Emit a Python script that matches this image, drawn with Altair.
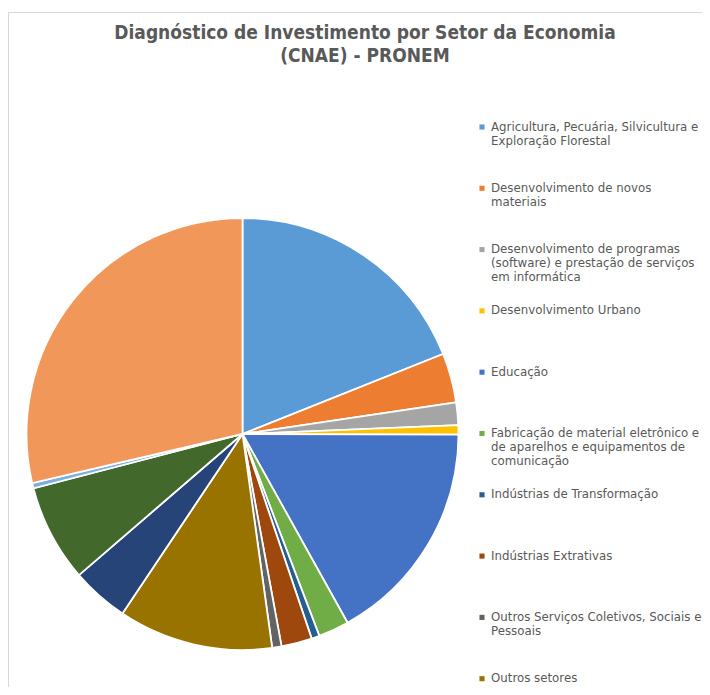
import altair as alt
import pandas as pd

title_lines = ["Diagnóstico de Investimento por Setor da Economia", "(CNAE) - PRONEM"]

categories = [
    "Agricultura, Pecuária, Silvicultura e\nExploração Florestal",
    "Desenvolvimento de novos\nmateriais",
    "Desenvolvimento de programas\n(software) e prestação de serviços\nem informática",
    "Desenvolvimento Urbano",
    "Educação",
    "Fabricação de material eletrônico e\nde aparelhos e equipamentos de\ncomunicação",
    "Indústrias de Transformação",
    "Indústrias Extrativas",
    "Outros Serviços Coletivos, Sociais e\nPessoais",
    "Outros setores",
    "Produtos Químicos e Farmacêuticos",
    "Saúde e Serviços Sociais",
    "Serviços Industriais de Utilidade\nPública",
    "Tecnologia da Informação e\nComunicação",
]
values = [19.0, 3.7, 1.7, 0.7, 16.9, 2.3, 0.6, 2.3, 0.7, 11.6, 4.3, 7.3, 0.4, 28.7]
colors = ["#5B9BD5", "#ED7D31", "#A5A5A5", "#FFC000", "#4472C4", "#70AD47",
          "#255E91", "#9E480E", "#636363", "#997300", "#264478", "#43682B",
          "#7CAFDD", "#F1975A"]

df = pd.DataFrame({"cat": categories, "value": values, "idx": list(range(len(categories)))})
# only the entries that fit in the visible frame are listed in the legend
legend_df = df.iloc[:10]

W, H = 694, 679
color_scale = alt.Scale(domain=categories, range=colors)

pie = alt.Chart(df).mark_arc(stroke="white", strokeWidth=1.8).encode(
    theta=alt.Theta("value:Q", stack=True),
    order=alt.Order("idx:Q", sort="ascending"),
    color=alt.Color("cat:N", scale=color_scale, legend=None),
    x=alt.value(234.5),
    y=alt.value(426),
    radius=alt.value(216),
)

step = 61.3
ly = alt.Y("idx:Q", scale=alt.Scale(domain=[0, 9], range=[119, 119 + step * 9]), axis=None)

leg_sym = alt.Chart(legend_df).mark_square(size=26, opacity=1).encode(
    x=alt.value(474),
    y=ly,
    color=alt.Color("cat:N", scale=color_scale, legend=None),
)

leg_txt = alt.Chart(legend_df).mark_text(
    align="left", baseline="top", dy=-5.5, lineBreak="\n", lineHeight=14,
    font="DejaVu Sans", fontSize=11.8, color="#595959",
).encode(
    x=alt.value(483),
    y=ly,
    text="cat:N",
)

title = alt.Chart(pd.DataFrame({"t": ["\n".join(title_lines)]})).mark_text(
    align="center", baseline="top", lineBreak="\n", lineHeight=23,
    font="DejaVu Sans Condensed", fontSize=19, fontWeight="bold", color="#595959",
).encode(x=alt.value(357), y=alt.value(16), text="t:N")

frame_left = alt.Chart(pd.DataFrame({"a": [0]})).mark_rule(color="#d9d9d9", strokeWidth=1).encode(
    x=alt.value(0.5), y=alt.value(4), y2=alt.value(H)
)
frame_top = alt.Chart(pd.DataFrame({"a": [0]})).mark_rule(color="#d9d9d9", strokeWidth=1).encode(
    x=alt.value(0.5), x2=alt.value(W), y=alt.value(4.5)
)

chart = alt.layer(frame_left, frame_top, pie, leg_sym, leg_txt, title).resolve_scale(
    y="independent", color="shared"
).properties(
    width=W, height=H, padding=0, autosize=alt.AutoSizeParams(type="none")
).configure_view(stroke=None)

chart.save("out.html", embed_options={"renderer": "svg", "actions": False})
